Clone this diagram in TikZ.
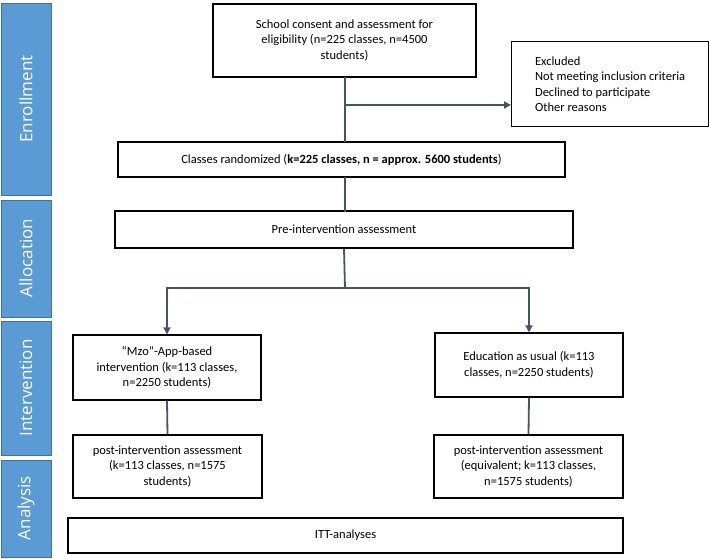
\documentclass[tikz,border=0pt]{standalone}
\usepackage{fontspec}
\setmainfont{Carlito}
\newfontfamily\sidefont{Open Sans}
\usetikzlibrary{arrows.meta}
\definecolor{sideblue}{HTML}{5B9BD5}
\definecolor{sideedge}{HTML}{41719C}
\definecolor{conn}{HTML}{44546A}
\begin{document}
\begin{tikzpicture}[x=1pt,y=-1pt,
  box/.style={draw=black,line width=1.3pt,fill=white,align=center,font=\fontsize{12.5}{15.5}\selectfont,inner sep=2pt},
  side/.style={draw=sideedge,line width=0.8pt,fill=sideblue},
  stext/.style={rotate=90,text=white,font=\sidefont\fontsize{17}{20}\selectfont},
  conn/.style={draw=conn,line width=1.8pt},
  arr/.style={conn,-{Triangle[length=7pt,width=7pt]}}]
\useasboundingbox (0,0) rectangle (709,559);
% side bars
\draw[side] (1,3) rectangle (51,195);
\draw[side] (1,200) rectangle (51,317);
\draw[side] (1,321) rectangle (51,455);
\draw[side] (1,460) rectangle (51,557);
\node[stext] (s1) at (26,99) {Enrollment};
\node[stext] (s2) at (26,258) {Allocation};
\node[stext] (s3) at (26,388) {Intervention};
\node[stext] (s4) at (26,508) {Analysis};
% boxes
\node[box,minimum width=263pt,minimum height=73pt] (top) at (344.5,40.5) {School consent and assessment for\\eligibility (n=225 classes, n=4500\\students)};
\node[box,minimum width=197pt,minimum height=85pt,align=left,anchor=north west] (exc) at (511,41) {Excluded\\Not meeting inclusion criteria\\Declined to participate\\Other reasons};
\node[box,minimum width=447pt,minimum height=35pt] (rand) at (341.5,159.5) {Classes randomized (\textbf{k=225 classes, n = approx. 5600 students})};
\node[box,minimum width=458pt,minimum height=37pt] (pre) at (344,229.5) {Pre-intervention assessment};
\node[box,minimum width=188pt,minimum height=65pt] (l1) at (167,367.5) {“Mzo”-App-based\\intervention (k=113 classes,\\n=2250 students)};
\node[box,minimum width=188pt,minimum height=64pt] (r1) at (529,365) {Education as usual (k=113\\classes, n=2250 students)};
\node[box,minimum width=189pt,minimum height=63pt] (l2) at (167.5,466.5) {post-intervention assessment\\(k=113 classes, n=1575\\students)};
\node[box,minimum width=189pt,minimum height=63pt] (r2) at (528.5,466.5) {post-intervention assessment\\(equivalent; k=113 classes,\\n=1575 students)};
\node[box,minimum width=555pt,minimum height=35pt] (itt) at (345.5,535.5) {ITT-analyses};
% connectors
\coordinate (j1) at (345,105);
\coordinate (j2) at (345,288);
\draw[conn] (345,77) -- (345,142);
\draw[arr] (j1) -- (exc.west|-j1);
\draw[conn] (345,177) -- (345,211.5);
\draw[conn] (pre.south) -- (j2);
\draw[arr] (j2) -| (l1.north);
\draw[arr] (j2) -| (r1.north);
\draw[conn] (l1.south) -- (l2.north);
\draw[conn] (r1.south) -- (r2.north);
\end{tikzpicture}
\end{document}
